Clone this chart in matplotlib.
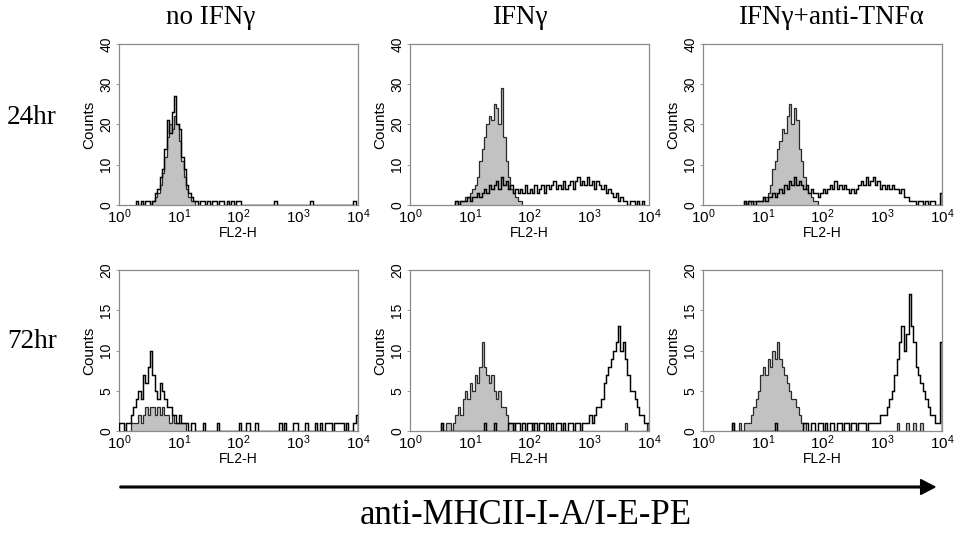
import numpy as np
import matplotlib
matplotlib.use("Agg")
import matplotlib.pyplot as plt
from matplotlib.patches import FancyArrow

plt.rcParams["font.family"] = ["Liberation Sans", "DejaVu Sans"]
plt.rcParams["mathtext.fontset"] = "custom"
plt.rcParams["mathtext.rm"] = "Liberation Sans"
plt.rcParams["mathtext.it"] = "Liberation Sans:italic"

# ---------------- data ----------------
col_titles = ["no IFN\u03b3", "IFN\u03b3", "IFN\u03b3+anti-TNF\u03b1"]
row_titles = ["24hr", "72hr"]
x_label = "FL2-H"
y_label = "Counts"
axis_title = "anti-MHCII-I-A/I-E-PE"
x_tick_exps = [0, 1, 2, 3, 4]
y_ticks_24 = [0, 10, 20, 30, 40]
y_ticks_72 = [0, 5, 10, 15, 20]
bin_decades = 0.04  # histogram channel width (log10 units)

# 24 hr, no IFNg
ctrl_24_a_start = 0.56
ctrl_24_a = [1, 2, 3, 5, 8, 12, 17, 20, 19, 22, 20, 16, 11, 7, 4, 2, 1, 1]
samp_24_a_start = 0.28
samp_24_a = [1, 0, 1, 0, 1, 1, 0, 1, 3, 4, 7, 9, 14, 21, 18, 23, 27, 20, 19, 12, 9, 5, 3, 2, 1, 1,
             0, 1, 1, 0, 1, 0, 1, 1, 0, 1, 1, 0, 1, 0, 1, 0, 1,
             1, 0, 0, 0, 0, 0, 0, 0, 0, 0, 0, 0, 0, 0, 0, 1, 0, 0, 0, 0, 0, 0, 0, 0, 0, 0, 0, 0, 0, 0,
             1, 0, 0, 0, 0, 0, 0, 0, 0, 0, 0, 0, 0, 0, 0, 0, 0, 0, 1]

# 24 hr, IFNg
ctrl_24_b_start = 0.76
ctrl_24_b = [1, 0, 1, 1, 2, 2, 3, 4, 5, 7, 11, 14, 17, 20, 22, 21, 25, 24, 20, 29, 17, 11, 7, 4, 3, 2, 1, 1]
samp_24_b_start = 0.76
samp_24_b = [1, 0, 1, 1, 1, 2, 1, 2, 2, 3, 2, 3, 4, 3, 5, 4, 5, 6, 4, 7, 5, 6, 4, 5, 3, 4, 3, 4, 3, 5,
             3, 4, 3, 5, 3, 4, 5, 3, 5, 4, 5, 6, 4, 5, 4, 6, 4, 5, 6, 4, 6, 7, 5, 6, 5, 7, 5, 6, 4, 6,
             5, 4, 5, 3, 4, 3, 2, 3, 1, 2, 1, 1, 0, 1, 1, 0, 1, 0, 1]

# 24 hr, IFNg + anti-TNFa
ctrl_24_c_start = 0.68
ctrl_24_c = [1, 0, 1, 0, 1, 1, 1, 1, 2, 2, 3, 5, 9, 11, 14, 16, 19, 18, 22, 25, 20, 24, 21, 14, 11,
             7, 4, 3, 2, 1, 1]
samp_24_c_start = 0.68
samp_24_c = [1, 0, 1, 1, 0, 1, 1, 1, 2, 1, 2, 2, 3, 2, 3, 4, 3, 5, 4, 6, 5, 7, 5, 6, 5, 4, 5, 3, 4, 3,
             3, 2, 3, 4, 3, 4, 5, 4, 6, 4, 5, 4, 5, 4, 3, 4, 3, 4, 5, 6, 5, 7, 5, 6, 7, 5, 6, 4, 5, 4,
             5, 4, 5, 4, 4, 3, 4, 2, 2, 1, 1, 1, 0, 1, 1, 0, 1, 0, 1, 1, 0, 0, 3]

# 72 hr, no IFNg
ctrl_72_a_start = 0.20
ctrl_72_a = [1, 1, 1, 2, 1, 2, 3, 2, 3, 3, 2, 3, 2, 3, 2, 2, 1, 2, 1, 1, 1, 1, 1]
samp_72_a_start = 0.00
samp_72_a = [1, 1, 0, 1, 1, 2, 3, 4, 5, 4, 7, 6, 8, 10, 7, 5, 4, 6, 5, 4, 3, 3, 2, 2, 1, 2, 1, 1, 1, 0, 1, 1,
             0, 0, 0, 1, 0, 0, 0, 0, 0, 1, 0, 0, 0, 0, 0, 0, 0, 0, 1, 0, 0, 1, 1, 0, 0, 1, 0, 0,
             0, 0, 0, 0, 0, 0, 0, 1, 0, 1, 0, 0, 0, 1, 1, 0, 0, 0, 1, 0, 0, 0, 1, 0, 1, 0, 1, 1,
             1, 0, 1, 1, 1, 1, 0, 1, 0, 0, 1, 2]

# 72 hr, IFNg
ctrl_72_b_start = 0.52
ctrl_72_b = [1, 0, 1, 1, 0, 1, 2, 3, 2, 4, 5, 4, 6, 5, 7, 6, 8, 11, 8, 7, 6, 7, 5, 4, 5, 3, 3, 2, 1, 1, 1,
             0, 0, 0, 0, 0, 0, 0, 1, 0, 0, 0, 0, 0, 0, 0, 0, 0, 0, 0, 0, 0, 0, 0, 0, 0, 0, 0, 0,
             0, 0, 0, 0, 0, 0, 0, 0, 0, 0, 0, 0, 0, 0, 0, 0, 0, 0, 1, 0, 0, 0, 0, 0, 0, 0, 0, 1, 0, 0, 1]
samp_72_b_start = 0.52
samp_72_b = [1, 0, 0, 0, 0, 0, 0, 0, 0, 0, 0, 0, 0, 0, 0, 0, 0, 0, 1, 0, 0, 0, 1, 0, 0, 0, 0, 0,
             1, 1, 0, 1, 1, 0, 1, 0, 1, 1, 0, 1, 0, 1, 1, 0, 1, 0, 1, 0, 1, 1, 0, 1, 0, 1, 1, 0,
             1, 1, 0, 1, 1, 1, 2, 1, 2, 3, 3, 4, 6, 7, 8, 9, 10, 11, 13, 10, 11, 9, 7, 5, 5, 4,
             3, 2, 2, 1, 1]

# 72 hr, IFNg + anti-TNFa
ctrl_72_c_start = 0.48
ctrl_72_c = [1, 0, 0, 1, 0, 1, 1, 1, 2, 3, 4, 5, 7, 8, 7, 9, 8, 10, 9, 11, 9, 8, 7, 6, 5, 4, 4, 3, 2, 1, 1,
             0, 0, 0, 0, 0, 0, 0, 0, 0, 0, 0, 0, 0, 0, 0, 0, 0, 0, 0, 0, 0, 0, 0, 0, 0, 0, 0, 0,
             0, 0, 0, 0, 0, 0, 0, 0, 0, 0, 1, 0, 0, 0, 1, 0, 0, 1, 0, 0, 1]
samp_72_c_start = 0.48
samp_72_c = [1, 0, 0, 0, 0, 0, 0, 0, 0, 0, 0, 0, 0, 0, 0, 0, 0, 0, 1, 0, 0, 0, 0, 0, 0, 0, 0, 0, 0, 0,
             1, 1, 0, 1, 1, 0, 1, 1, 0, 1, 0, 1, 1, 0, 1, 1, 0, 1, 1, 0, 1, 1, 0, 1, 1, 1, 0, 1,
             1, 1, 1, 1, 2, 2, 2, 3, 4, 5, 7, 9, 11, 13, 10, 12, 17, 13, 11, 8, 7, 6, 5, 4, 3, 2,
             2, 1, 1, 11]

panels = [
    [(ctrl_24_a_start, ctrl_24_a, samp_24_a_start, samp_24_a),
     (ctrl_24_b_start, ctrl_24_b, samp_24_b_start, samp_24_b),
     (ctrl_24_c_start, ctrl_24_c, samp_24_c_start, samp_24_c)],
    [(ctrl_72_a_start, ctrl_72_a, samp_72_a_start, samp_72_a),
     (ctrl_72_b_start, ctrl_72_b, samp_72_b_start, samp_72_b),
     (ctrl_72_c_start, ctrl_72_c, samp_72_c_start, samp_72_c)],
]
row_yticks = [y_ticks_24, y_ticks_72]

# ---------------- layout ----------------
W, H = 956, 533
fig = plt.figure(figsize=(W / 100, H / 100), dpi=100)

col_lefts = [119, 410, 703]
ax_w = 239
row_tops = [44, 270]
ax_h = 161

spine_col = "#8a8a8a"
fill_col = "#c2c2c2"
serif = ["Liberation Serif", "DejaVu Serif"]


def edges_for(start, counts):
    e = start + bin_decades * np.arange(len(counts) + 1)
    e = np.minimum(e, 4.0)
    return 10.0 ** e


for r in range(2):
    for c in range(3):
        left = col_lefts[c] / W
        bottom = 1 - (row_tops[r] + ax_h) / H
        ax = fig.add_axes([left, bottom, ax_w / W, ax_h / H])
        cs, cv, ss, sv = panels[r][c]
        ce = edges_for(cs, cv)
        se = edges_for(ss, sv)
        ax.stairs(cv, ce, fill=True, facecolor=fill_col, edgecolor="none", zorder=1)
        ax.stairs(cv, ce, color="#2a2a2a", lw=0.9, zorder=2)
        ax.stairs(sv, se, color="black", lw=1.05, zorder=3)
        ax.set_xscale("log")
        ax.set_xlim(1, 1e4)
        yt = row_yticks[r]
        ax.set_ylim(yt[0], yt[-1])
        ax.set_xticks([10.0 ** k for k in x_tick_exps])
        ax.set_xticklabels([r"$\mathregular{10^{%d}}$" % k for k in x_tick_exps], fontsize=11)
        ax.xaxis.set_minor_locator(matplotlib.ticker.NullLocator())
        ax.set_yticks(yt)
        ax.set_yticklabels([str(v) for v in yt], fontsize=10, rotation=90, va="center")
        ax.tick_params(axis="x", length=0, pad=2)
        ax.tick_params(axis="y", length=2, width=0.6, color=spine_col, pad=2)
        for sp in ax.spines.values():
            sp.set_color(spine_col)
            sp.set_linewidth(0.9)
        ax.set_xlabel(x_label, fontsize=10, labelpad=0)
        ax.set_ylabel(y_label, fontsize=11, labelpad=2)

# column titles
title_x = [211, 520, 831]
for tx, t in zip(title_x, col_titles):
    fig.text(tx / W, 1 - 18 / H, t, ha="center", va="center", fontsize=19.5, family=serif)
# row titles
for ty, t in zip([117, 342], row_titles):
    fig.text(7 / W, 1 - ty / H, t, ha="left", va="center", fontsize=19.5, family=serif)

# arrow
arr_y = 1 - 487 / H
fig.add_artist(FancyArrow(120 / W, arr_y, (935 - 120) / W, 0, width=0.0032,
                          head_width=0.028, head_length=0.015,
                          length_includes_head=True, color="black",
                          transform=fig.transFigure))
fig.text(526 / W, 1 - 516 / H, axis_title, ha="center", va="center", fontsize=25, family=serif)

fig.savefig("out.png", dpi=100)
